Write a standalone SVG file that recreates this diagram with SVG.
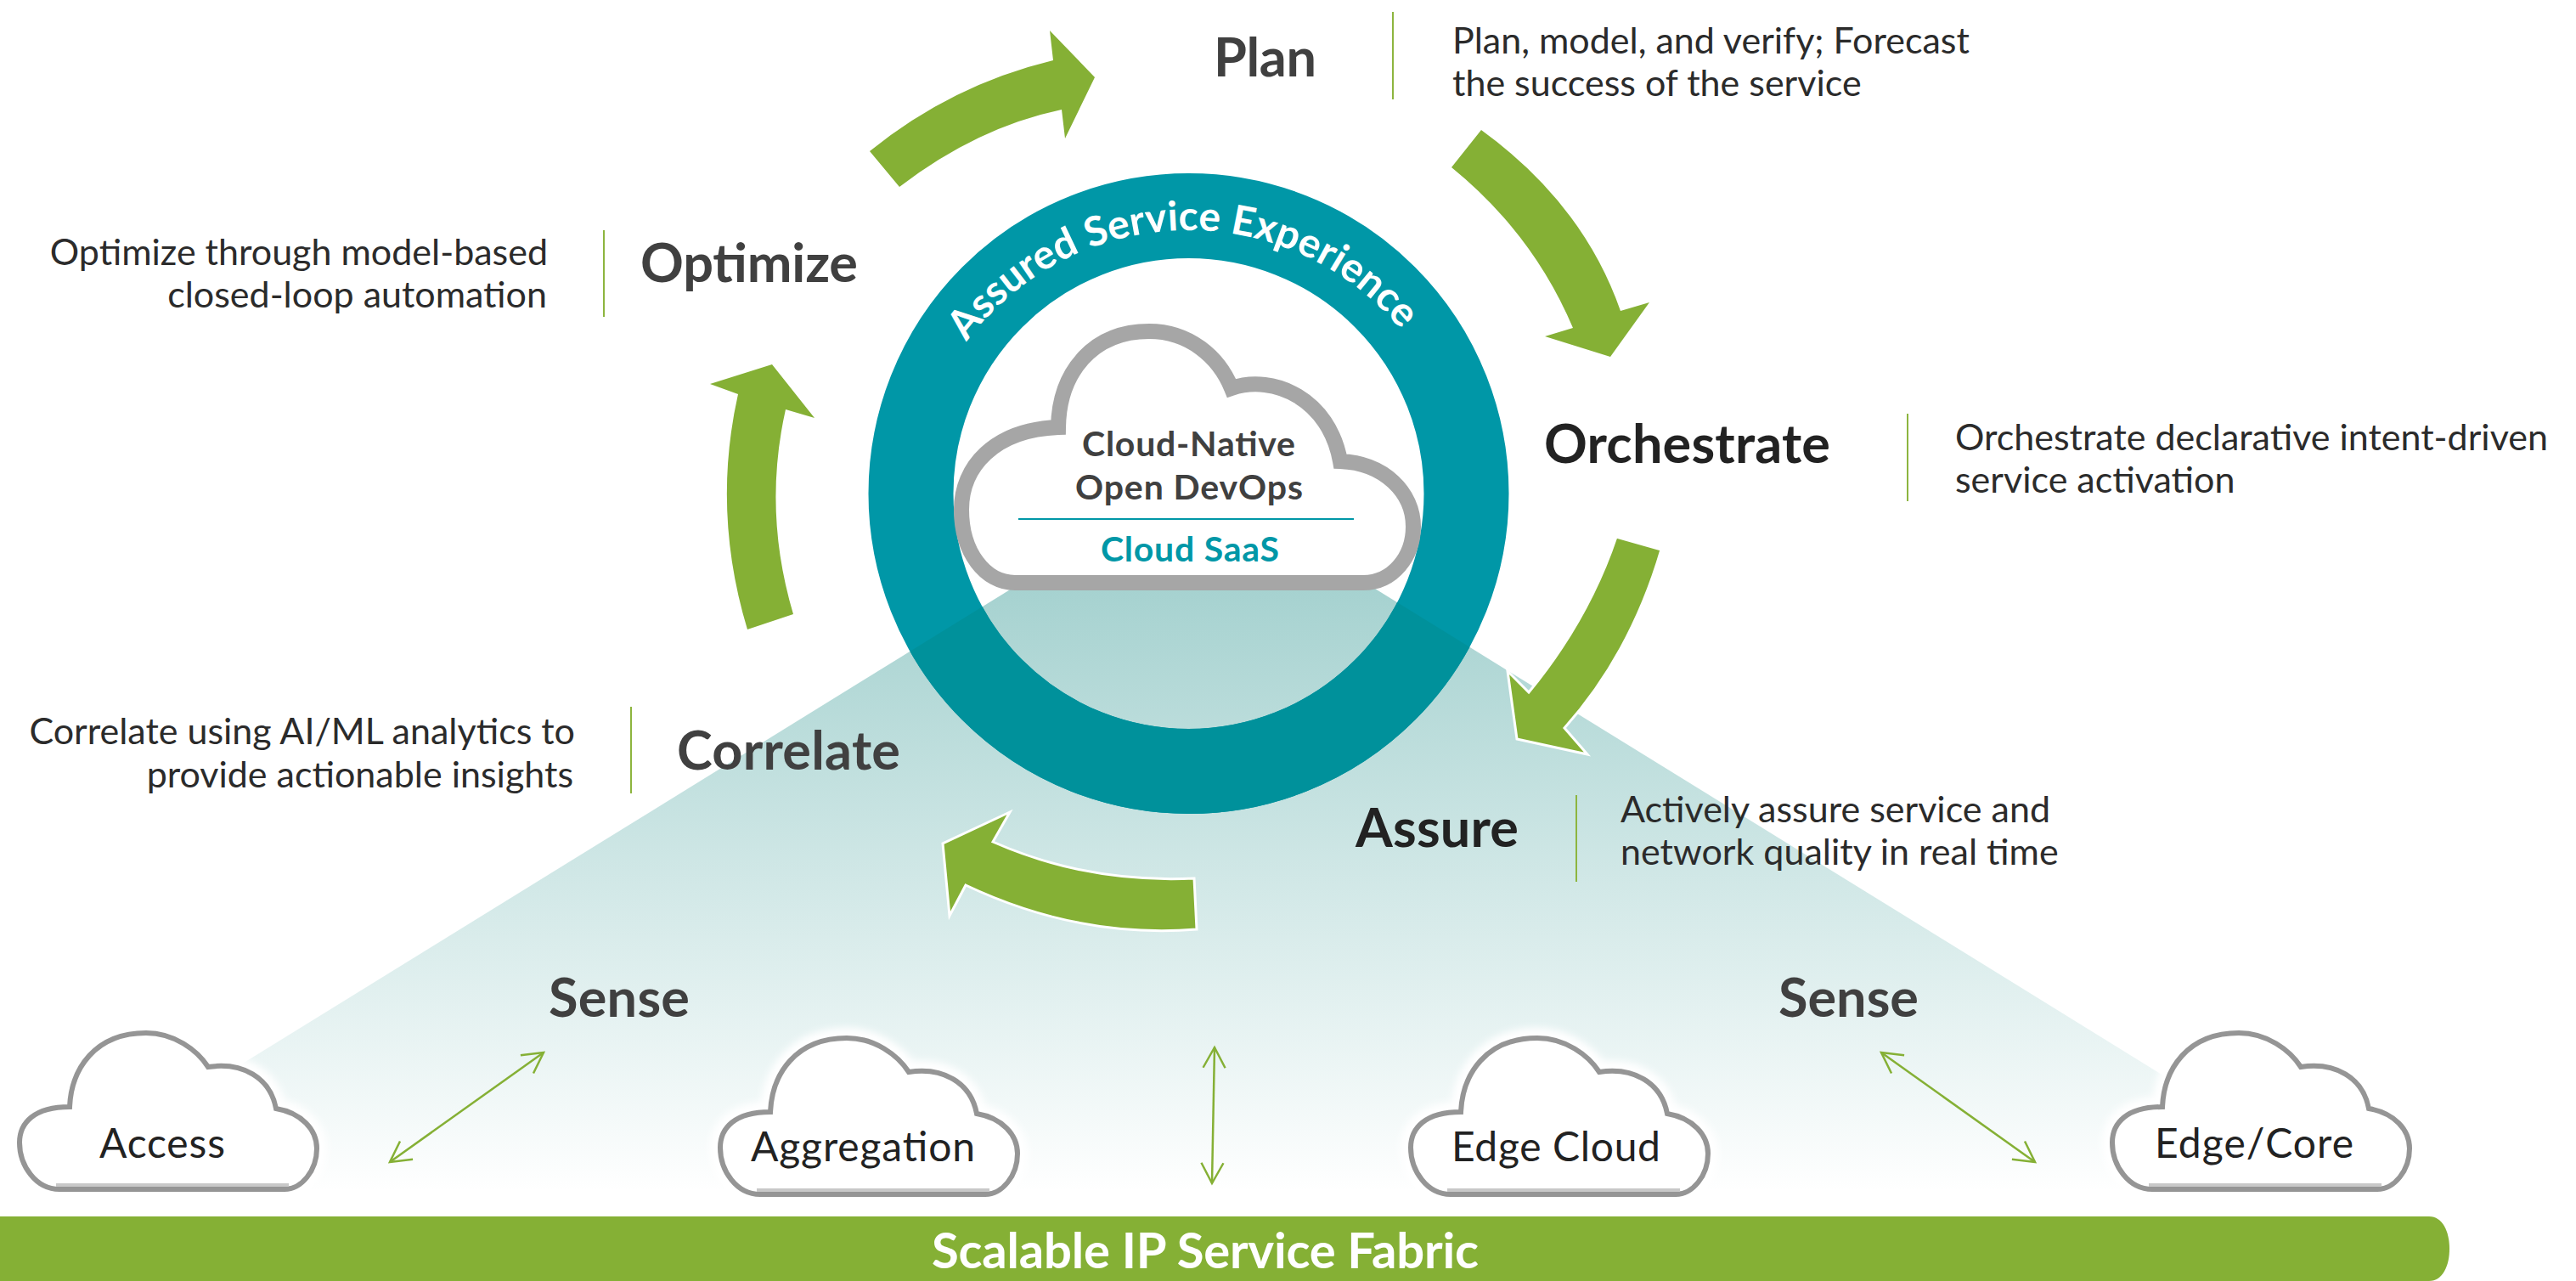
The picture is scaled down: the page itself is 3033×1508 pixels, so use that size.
<svg xmlns="http://www.w3.org/2000/svg" width="3033" height="1508" viewBox="0 0 3033 1508">
<style>
text{font-family:"Lato","Liberation Sans",sans-serif}
.h{font-weight:700;fill:#404040;font-size:63px}
.k{font-weight:700;fill:#222;font-size:63px}
.d{fill:#2b2b2b;font-size:43px}
.c{fill:#222;font-size:48px}
.g{fill:#85b035}
.gw{fill:#85b035;stroke:#fff;stroke-width:3}
.sep{stroke:#8db53f;stroke-width:2;fill:none}
.dbl{stroke:#85b035;stroke-width:2.5;fill:none;marker-start:url(#ah);marker-end:url(#ah)}
.cl{fill:#fff;stroke:#959595;stroke-width:6}
.glow{fill:#fff;stroke:#fff;stroke-width:24;filter:url(#bl)}
</style>
<defs>
<linearGradient id="tz" gradientUnits="userSpaceOnUse" x1="0" y1="693" x2="0" y2="1405"><stop offset="0" stop-color="#a6d2d0"/><stop offset="1" stop-color="#fff"/></linearGradient>
<filter id="bl" x="-10%" y="-10%" width="120%" height="120%"><feGaussianBlur stdDeviation="4"/></filter>
<clipPath id="tzc"><polygon points="1191,693 1619,693 2764,1400 46,1400"/></clipPath>
<marker id="ah" viewBox="-26 -15 30 30" refX="0" refY="0" markerWidth="30" markerHeight="30" markerUnits="userSpaceOnUse" orient="auto-start-reverse"><path d="M-24,-13L0,0L-24,13" fill="none" stroke="#85b035" stroke-width="2.5"/></marker>
<path id="cp" d="M70,1400C42,1400 23,1372 23,1345C23,1322 40,1303 82,1303C84,1258 112,1216 172,1216C205,1216 232,1236 245,1256C285,1250 318,1268 325,1305C355,1310 373,1330 373,1352C373,1378 355,1400 335,1400Z"/>
<g id="cloud"><use href="#cp" class="glow"/><use href="#cp" class="cl"/><path d="M66,1395H340" stroke="#c8c8c8" stroke-width="4" fill="none"/><path d="M70,1400H335" stroke="#959595" stroke-width="6" fill="none"/></g>
<path id="ringtext" d="M1110,448A325,325 0 0 1 1680,432"/>
</defs>
<rect width="3033" height="1508" fill="#fff"/>
<g id="fan"><polygon points="1191,693 1619,693 2764,1400 46,1400" fill="url(#tz)"/></g>
<g id="ring">
<circle cx="1399.5" cy="581" r="327" fill="none" stroke="#0097a7" stroke-width="100"/>
<circle cx="1399.5" cy="581" r="327" fill="none" stroke="#00919b" stroke-width="100" clip-path="url(#tzc)"/>
<text font-size="48" font-weight="700" fill="#fff" text-anchor="middle"><textPath href="#ringtext" startOffset="50%">Assured Service Experience</textPath></text>
</g>
<g id="center-cloud">
<path d="M1195,686C1160,686 1132,650 1132,600C1132,550 1170,506 1246,503C1247,440 1285,390 1353,390C1400,390 1435,420 1450,457C1500,440 1565,470 1578,543C1630,545 1664,580 1664,620C1664,655 1640,686 1605,686Z" fill="#fff" stroke="#a6a6a6" stroke-width="18"/>
<text x="1274" y="537" font-size="41" font-weight="700" fill="#404040" textLength="251">Cloud-Native</text>
<text x="1266" y="588" font-size="41" font-weight="700" fill="#404040" textLength="268">Open DevOps</text>
<path d="M1199,611H1594" stroke="#0097a7" stroke-width="2"/>
<text x="1296" y="661" font-size="41" font-weight="700" fill="#0097a7" textLength="210">Cloud SaaS</text>
</g>
<g id="connectors">
<path class="g" d="M1024,178Q1120,100 1240,71L1236,36L1289,91L1254,163L1250,129Q1150,150 1059,220Z"/>
<path class="g" d="M1744,153Q1864,240 1908,366L1942,356L1896,420L1819,396L1852,386Q1805,275 1709,197Z"/>
<path class="gw" d="M1956,647Q1920,770 1842,857L1869,888L1786,870L1775,790L1800,815Q1870,730 1903,632Z"/>
<path class="gw" d="M1406,1034Q1280,1040 1169,991L1189,956L1110,993L1118,1078L1137,1042Q1270,1105 1409,1094Z"/>
<path class="g" d="M880,741Q838,602 869,464L836,452L909,429L959,492L925,482Q898,602 934,723Z"/>
<path class="dbl" d="M459,1368L640,1239"/>
<path class="dbl" d="M1427,1393L1430,1233"/>
<path class="dbl" d="M2215,1239L2396,1368"/>
</g>
<g id="plan"><text class="h" x="1429" y="90" textLength="121">Plan</text><path class="sep" d="M1640,14V117"/><text class="d" x="1710" y="63">Plan, model, and verify; Forecast</text><text class="d" x="1710" y="113">the success of the service</text></g>
<g id="optimize"><text class="h" x="754" y="332" textLength="256">Optimize</text><path class="sep" d="M711,271V373"/><text class="d" x="645" y="312" text-anchor="end">Optimize through model-based</text><text class="d" x="644" y="362" text-anchor="end">closed-loop automation</text></g>
<g id="orchestrate"><text class="k" x="1818" y="545" textLength="337">Orchestrate</text><path class="sep" d="M2246,487V590"/><text class="d" x="2302" y="530">Orchestrate declarative intent-driven</text><text class="d" x="2302" y="580">service activation</text></g>
<g id="assure"><text class="k" x="1596" y="997" textLength="192">Assure</text><path class="sep" d="M1856,936V1038"/><text class="d" x="1908" y="968">Actively assure service and</text><text class="d" x="1908" y="1018">network quality in real time</text></g>
<g id="correlate"><text class="h" x="797" y="906" textLength="263">Correlate</text><path class="sep" d="M743,832V934"/><text class="d" x="677" y="876" text-anchor="end">Correlate using AI/ML analytics to</text><text class="d" x="675" y="927" text-anchor="end">provide actionable insights</text></g>
<g id="sense-left"><text class="h" x="646" y="1197" textLength="166">Sense</text></g>
<g id="sense-right"><text class="h" x="2094" y="1197" textLength="165">Sense</text></g>
<g id="access"><use href="#cloud"/><text class="c" x="117" y="1363" textLength="148">Access</text></g>
<g id="aggregation"><use href="#cloud" transform="translate(825,6)"/><text class="c" x="884" y="1367" textLength="264">Aggregation</text></g>
<g id="edge-cloud"><use href="#cloud" transform="translate(1638,6)"/><text class="c" x="1709" y="1367" textLength="246">Edge Cloud</text></g>
<g id="edge-core"><use href="#cloud" transform="translate(2464,0)"/><text class="c" x="2537" y="1363" textLength="234">Edge/Core</text></g>
<g id="fabric"><path d="M0,1432H2860C2876,1432 2884,1450 2884,1470C2884,1490 2876,1508 2860,1508H0Z" fill="#85b035"/><text x="1097" y="1493" font-size="58" font-weight="700" fill="#fff" textLength="644">Scalable IP Service Fabric</text></g>
</svg>
